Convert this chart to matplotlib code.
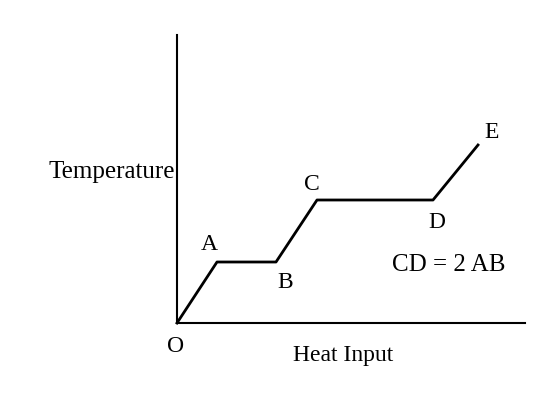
import matplotlib
matplotlib.use("Agg")
import matplotlib.pyplot as plt

heat = [0, 40, 99, 140, 256, 301]
temp = [0, 61, 61, 123, 123, 178]
point_labels = ["A", "B", "C", "D", "E"]
label_pos = [(32, 78), (108, 40), (135, 138), (260, 101), (315, 190)]

plt.rcParams['font.family'] = ['Liberation Serif', 'DejaVu Serif']
fig = plt.figure(figsize=(5.49, 4.05), dpi=100)
ax = fig.add_axes([177/549, 82/405, 348/549, 288/405])
ax.set_xlim(0, 348)
ax.set_ylim(0, 288)
for s in ['top', 'right']:
    ax.spines[s].set_visible(False)
ax.spines['left'].set_linewidth(1.5)
ax.spines['bottom'].set_linewidth(1.5)
ax.set_xticks([]); ax.set_yticks([])
ax.plot(heat, temp, color='black', lw=2, clip_on=False)
for lab, (x, y) in zip(point_labels, label_pos):
    ax.text(x, y, lab, fontsize=17, ha='center', va='center')
ax.text(-1, -23, "O", fontsize=17, ha='center', va='center', clip_on=False)
ax.text(-2, 151, "Temperature", fontsize=18, ha='right', va='center')
ax.text(166, -32, "Heat Input", fontsize=17, ha='center', va='center')
ax.text(272, 58, "CD = 2 AB", fontsize=18, ha='center', va='center')
fig.savefig("out.png", dpi=100)
